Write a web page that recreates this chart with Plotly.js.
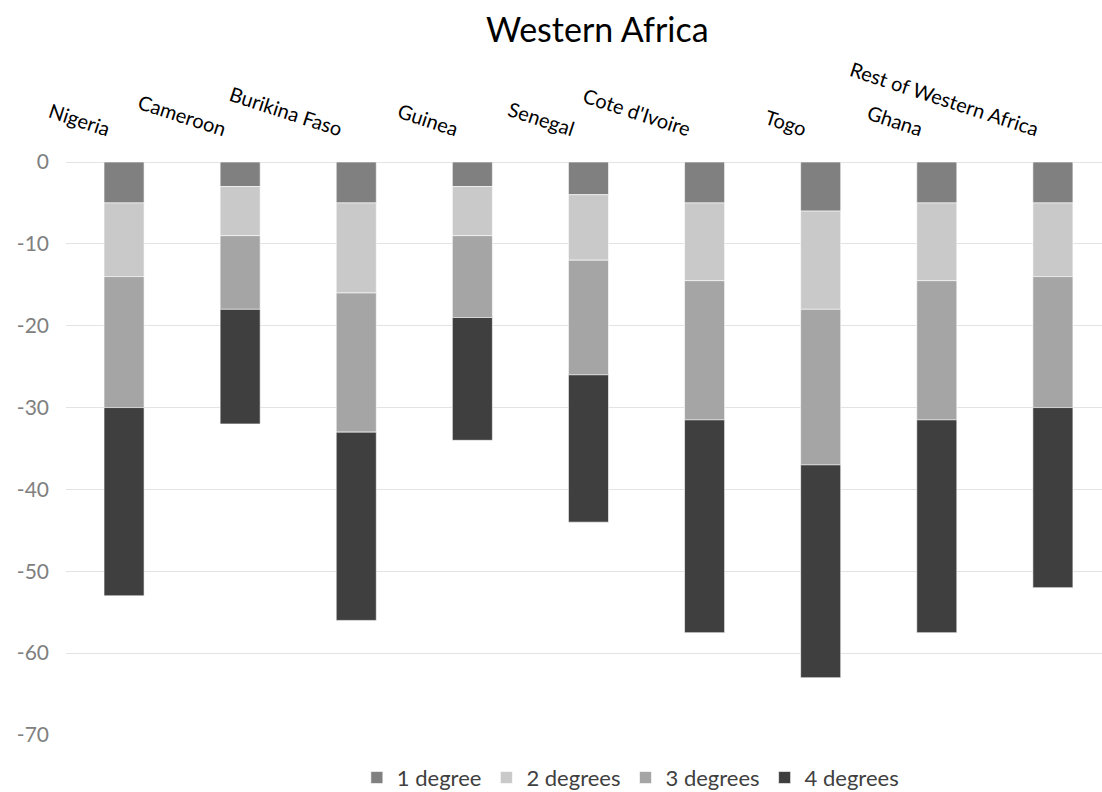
<!DOCTYPE html>
<html>
<head>
<meta charset="utf-8">
<script src="https://cdn.plot.ly/plotly-3.0.1.min.js"></script>
<style>html,body{margin:0;padding:0;background:#fff;}#chart{width:1102px;height:792px;}</style>
</head>
<body>
<div id="chart"></div>
<script>
const countries = ["Nigeria", "Cameroon", "Burikina Faso", "Guinea", "Senegal", "Cote d'Ivoire", "Togo", "Ghana", "Rest of Western Africa"];
const seriesNames = ["1 degree", "2 degrees", "3 degrees", "4 degrees"];
const deg1 = [-5, -3, -5, -3, -4, -5, -6, -5, -5];
const deg2 = [-9, -6, -11, -6, -8, -9.5, -12, -9.5, -9];
const deg3 = [-16, -9, -17, -10, -14, -17, -19, -17, -16];
const deg4 = [-23, -14, -23, -15, -18, -26, -26, -26, -22];
const colors = ["#808080", "#c9c9c9", "#a5a5a5", "#3f3f3f"];

const allSeries = [deg1, deg2, deg3, deg4];
const traces = allSeries.map((vals, i) => ({
  type: "bar",
  name: seriesNames[i],
  x: countries,
  y: vals,
  marker: {color: colors[i], line: {color: "#ffffff", width: 0.6}},
  hoverinfo: "x+y+name"
}));

const layout = {
  width: 1102,
  height: 792,
  barmode: "relative",
  bargap: 0.655,
  paper_bgcolor: "#ffffff",
  plot_bgcolor: "#ffffff",
  margin: {l: 66, r: 0, t: 162, b: 57},
  title: {
    text: "Western Africa",
    x: 0.542, xref: "container", xanchor: "center",
    y: 0.962, yref: "container", yanchor: "middle",
    font: {family: "Lato, 'Open Sans', sans-serif", size: 34, color: "#000000"}
  },
  font: {family: "Lato, 'Open Sans', sans-serif"},
  xaxis: {
    side: "top",
    type: "category",
    range: [-0.5, 8.423],
    tickangle: 18,
    ticks: "",
    ticklabelstandoff: 20,
    ticklabelshift: -14,
    tickfont: {family: "Lato, 'Open Sans', sans-serif", size: 20, color: "#000000"},
    showgrid: false,
    showline: false,
    zeroline: false,
    fixedrange: true
  },
  yaxis: {
    range: [-70, 0],
    tickvals: [0, -10, -20, -30, -40, -50, -60, -70],
    ticktext: ["0", "-10", "-20", "-30", "-40", "-50", "-60", "-70"],
    tickfont: {family: "Lato, 'Open Sans', sans-serif", size: 21, color: "#808080"},
    ticklabelstandoff: 16,
    showgrid: true,
    gridcolor: "#e3e3e3",
    gridwidth: 1,
    zeroline: true,
    zerolinecolor: "#e3e3e3",
    zerolinewidth: 1,
    showline: false,
    ticks: "",
    fixedrange: true
  },
  legend: {
    orientation: "h",
    xref: "container",
    yref: "container",
    x: 0.572, xanchor: "center",
    y: 0.018, yanchor: "middle",
    traceorder: "normal",
    font: {family: "Lato, 'Open Sans', sans-serif", size: 22, color: "#404040"},
    itemwidth: 30
  },
  showlegend: true
};

Plotly.newPlot("chart", traces, layout, {displayModeBar: false, staticPlot: true});
</script>
</body>
</html>
